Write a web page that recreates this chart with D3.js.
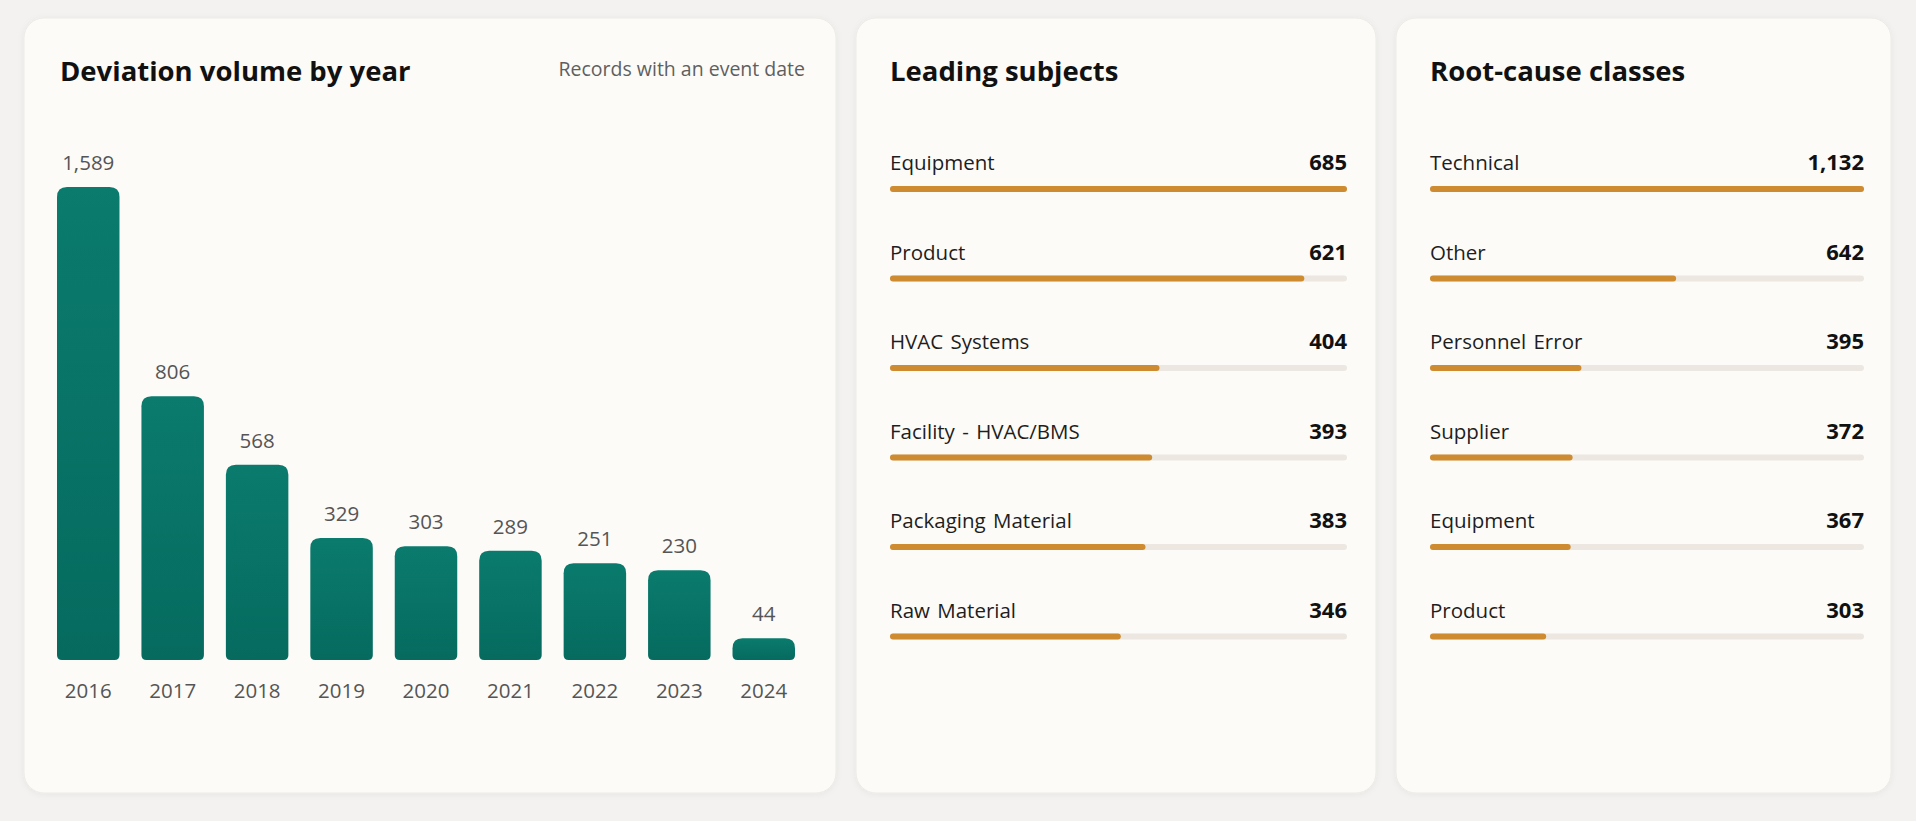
<!DOCTYPE html>
<html>
<head>
<meta charset="utf-8">
<script src="https://cdn.jsdelivr.net/npm/d3@7"></script>
<style>
  html, body { margin: 0; padding: 0; background: #f3f2f0; }
  svg { display: block; font-family: "Open Sans", "Noto Sans", sans-serif; }
</style>
</head>
<body>
<svg width="1916" height="821"></svg>
<script>
// data
const years = ["2016", "2017", "2018", "2019", "2020", "2021", "2022", "2023", "2024"];
const yearCounts = [1589, 806, 568, 329, 303, 289, 251, 230, 44];

const subjectNames = ["Equipment", "Product", "HVAC Systems", "Facility - HVAC/BMS", "Packaging Material", "Raw Material"];
const subjectCounts = [685, 621, 404, 393, 383, 346];

const causeNames = ["Technical", "Other", "Personnel Error", "Supplier", "Equipment", "Product"];
const causeCounts = [1132, 642, 395, 372, 367, 303];

const fmt = d3.format(",");

var svg = d3.select("svg");

// card shadow + bar gradient
var defs = svg.append("defs");
defs.append("filter")
    .attr("id", "shadow")
    .attr("x", "-5%").attr("y", "-5%").attr("width", "110%").attr("height", "110%")
    .append("feDropShadow")
    .attr("dx", 0).attr("dy", 1)
    .attr("stdDeviation", 3)
    .attr("flood-color", "#000")
    .attr("flood-opacity", 0.05);
var grad = defs.append("linearGradient")
    .attr("id", "teal")
    .attr("x1", 0).attr("y1", 0).attr("x2", 0).attr("y2", 1);
grad.append("stop").attr("offset", "0%").attr("stop-color", "#0a7b6d");
grad.append("stop").attr("offset", "100%").attr("stop-color", "#066a5f");

// cards
const cards = [
    { x: 24, w: 812 },
    { x: 856, w: 520 },
    { x: 1396, w: 495 }
];
svg.selectAll(".card")
    .data(cards)
    .enter().append("rect")
    .attr("class", "card")
    .attr("x", d => d.x)
    .attr("y", 18)
    .attr("width", d => d.w)
    .attr("height", 775)
    .attr("rx", 20)
    .attr("fill", "#fcfbf8")
    .attr("stroke", "#ecebe7")
    .attr("stroke-width", 1)
    .attr("filter", "url(#shadow)");

// ---- card 1: column chart ----
var g1 = svg.append("g");
g1.append("text")
    .attr("x", 60).attr("y", 81)
    .attr("font-size", "27.5px")
    .attr("font-weight", 700)
    .attr("fill", "#111")
    .text("Deviation volume by year");
g1.append("text")
    .attr("x", 805).attr("y", 76)
    .attr("text-anchor", "end")
    .attr("font-size", "19.5px")
    .attr("fill", "#5f5f5f")
    .text("Records with an event date");

var baseY = 660;
var x = d3.scaleBand().domain(years).range([57, 795]).paddingInner(0.26).paddingOuter(0);
var y = d3.scalePow().exponent(0.86).domain([0, d3.max(yearCounts)]).range([baseY, 187]);

// bar with rounder top corners
function barPath(x0, y0, w, h) {
    var rt = Math.min(10, h / 2), rb = Math.min(5, h / 2);
    var x1 = x0 + w, y1 = y0 + h;
    return "M" + x0 + "," + (y0 + rt) +
        "Q" + x0 + "," + y0 + " " + (x0 + rt) + "," + y0 +
        "L" + (x1 - rt) + "," + y0 +
        "Q" + x1 + "," + y0 + " " + x1 + "," + (y0 + rt) +
        "L" + x1 + "," + (y1 - rb) +
        "Q" + x1 + "," + y1 + " " + (x1 - rb) + "," + y1 +
        "L" + (x0 + rb) + "," + y1 +
        "Q" + x0 + "," + y1 + " " + x0 + "," + (y1 - rb) + "Z";
}

var yearData = years.map((yr, i) => ({ year: yr, value: yearCounts[i] }));

g1.selectAll(".bar")
    .data(yearData)
    .enter().append("path")
    .attr("class", "bar")
    .attr("fill", "url(#teal)")
    .attr("d", d => barPath(x(d.year), y(d.value), x.bandwidth(), baseY - y(d.value)));

g1.selectAll(".val")
    .data(yearData)
    .enter().append("text")
    .attr("class", "val")
    .attr("x", d => x(d.year) + x.bandwidth() / 2)
    .attr("y", d => y(d.value) - 17)
    .attr("text-anchor", "middle")
    .attr("font-size", "20.5px")
    .attr("fill", "#555")
    .text(d => fmt(d.value));

var xAxis = g1.append("g")
    .attr("transform", "translate(0," + baseY + ")")
    .call(d3.axisBottom(x).tickSize(0).tickPadding(0));
xAxis.select(".domain").remove();
xAxis.selectAll("text")
    .attr("y", 38)
    .attr("dy", 0)
    .attr("font-family", "Open Sans, Noto Sans, sans-serif")
    .attr("font-size", "20.5px")
    .attr("fill", "#555");

// ---- ranked bar lists ----
function rankedList(left, right, title, names, counts) {
    var g = svg.append("g");
    g.append("text")
        .attr("x", left).attr("y", 81)
        .attr("font-size", "27.5px")
        .attr("font-weight", 700)
        .attr("fill", "#111")
        .text(title);

    var rows = names.map((n, i) => ({ name: n, value: counts[i] }));
    var rowY = d3.scaleBand().domain(names).range([144, 681]);
    var w = d3.scaleLinear().domain([0, d3.max(counts)]).range([0, right - left]);

    var row = g.selectAll(".row")
        .data(rows)
        .enter().append("g")
        .attr("class", "row")
        .attr("transform", d => "translate(0," + rowY(d.name) + ")");

    row.append("text")
        .attr("x", left).attr("y", 26)
        .attr("font-size", "20.5px")
        .attr("fill", "#1e1e1e")
        .attr("word-spacing", "2px")
        .text(d => d.name);
    row.append("text")
        .attr("x", right).attr("y", 26)
        .attr("text-anchor", "end")
        .attr("font-size", "22px")
        .attr("font-weight", 700)
        .attr("fill", "#111")
        .text(d => fmt(d.value));
    row.append("rect")
        .attr("x", left).attr("y", 42)
        .attr("width", right - left)
        .attr("height", 6).attr("rx", 3)
        .attr("fill", "#ece8e1");
    row.append("rect")
        .attr("x", left).attr("y", 42)
        .attr("width", d => w(d.value))
        .attr("height", 6).attr("rx", 3)
        .attr("fill", "#cf8b2f");
}

rankedList(890, 1347, "Leading subjects", subjectNames, subjectCounts);
rankedList(1430, 1864, "Root-cause classes", causeNames, causeCounts);
</script>
</body>
</html>
